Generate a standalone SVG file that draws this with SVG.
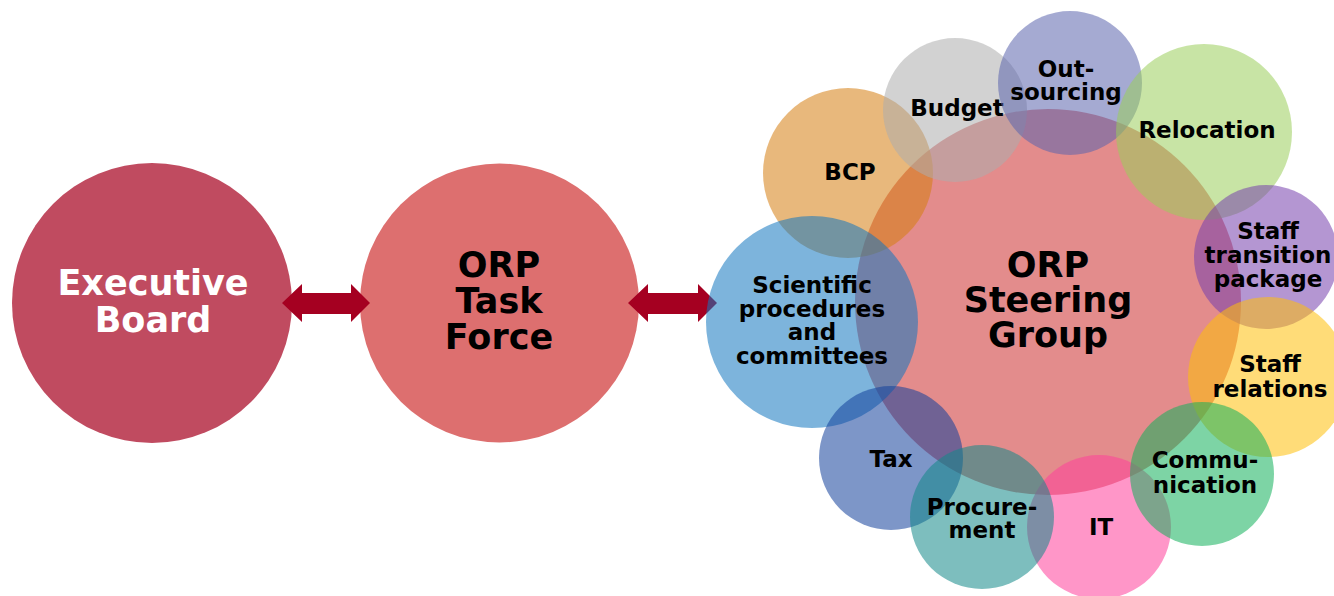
<svg xmlns="http://www.w3.org/2000/svg" width="1334" height="596" viewBox="0 0 1334 596">
<style>
text{font-family:"DejaVu Sans",Verdana,"Liberation Sans",sans-serif;font-weight:bold;text-anchor:middle}
.big{font-size:35px}
.sm{font-size:23px;fill:#000}
.sat{fill-opacity:0.55}
</style>
<rect width="1334" height="596" fill="#fff"/>
<g id="executive-board">
<circle cx="152" cy="303" r="140" fill="#C04B60"/>
<text class="big" x="153" y="295" fill="#fff">Executive</text>
<text class="big" x="153" y="332" fill="#fff">Board</text>
</g>
<g id="orp-task-force">
<circle cx="499.5" cy="303" r="139.5" fill="#DD6F6F"/>
<text class="big" x="499" y="277" fill="#000">ORP</text>
<text class="big" x="499" y="313" fill="#000">Task</text>
<text class="big" x="499" y="349" fill="#000">Force</text>
</g>
<g id="connectors" fill="#A50021">
<polygon points="282,303 302,284 302,293 351,293 351,284 370,303 351,322 351,314 302,314 302,322"/>
<polygon points="628,303 648,284 648,293 698,293 698,284 717,303 698,322 698,314 648,314 648,322"/>
</g>
<g id="orp-steering-group">
<circle class="sat" cx="1048" cy="302" r="193" fill="rgb(204,46,46)"/>
<text class="big" x="1048" y="277" fill="#000">ORP</text>
<text class="big" x="1048" y="312" fill="#000">Steering</text>
<text class="big" x="1048" y="347" fill="#000">Group</text>
</g>
<g id="bcp">
<circle class="sat" cx="848" cy="173" r="85" fill="rgb(213,126,17)"/>
<text class="sm" x="850" y="180">BCP</text>
</g>
<g id="budget">
<circle class="sat" cx="955" cy="110" r="72" fill="rgb(173,173,173)"/>
<text class="sm" x="957" y="116">Budget</text>
</g>
<g id="outsourcing">
<circle class="sat" cx="1070" cy="83" r="72" fill="rgb(91,100,173)"/>
<text class="sm" x="1066" y="77">Out-</text>
<text class="sm" x="1066" y="100">sourcing</text>
</g>
<g id="relocation">
<circle class="sat" cx="1204" cy="132" r="88" fill="rgb(155,206,91)"/>
<text class="sm" x="1207" y="138">Relocation</text>
</g>
<g id="staff-transition-package">
<circle class="sat" cx="1266" cy="257" r="72" fill="rgb(119,64,173)"/>
<text class="sm" x="1268" y="239">Staff</text>
<text class="sm" x="1268" y="263">transition</text>
<text class="sm" x="1268" y="287">package</text>
</g>
<g id="staff-relations">
<circle class="sat" cx="1268" cy="377" r="80" fill="rgb(255,191,10)"/>
<text class="sm" x="1270" y="372">Staff</text>
<text class="sm" x="1270" y="397">relations</text>
</g>
<g id="scientific-procedures">
<circle class="sat" cx="812" cy="322" r="106" fill="rgb(19,119,191)"/>
<text class="sm" x="812" y="293">Scientific</text>
<text class="sm" x="812" y="317">procedures</text>
<text class="sm" x="812" y="340">and</text>
<text class="sm" x="812" y="364">committees</text>
</g>
<g id="tax">
<circle class="sat" cx="891" cy="458" r="72" fill="rgb(19,64,155)"/>
<text class="sm" x="891" y="467">Tax</text>
</g>
<g id="it">
<circle class="sat" cx="1099" cy="527" r="72" fill="rgb(255,64,155)"/>
<text class="sm" x="1101" y="535">IT</text>
</g>
<g id="procurement">
<circle class="sat" cx="982" cy="517" r="72" fill="rgb(19,137,137)"/>
<text class="sm" x="982" y="515">Procure-</text>
<text class="sm" x="982" y="538">ment</text>
</g>
<g id="communication">
<circle class="sat" cx="1202" cy="474" r="72" fill="rgb(19,177,91)"/>
<text class="sm" x="1205" y="468">Commu-</text>
<text class="sm" x="1205" y="493">nication</text>
</g>
</svg>
